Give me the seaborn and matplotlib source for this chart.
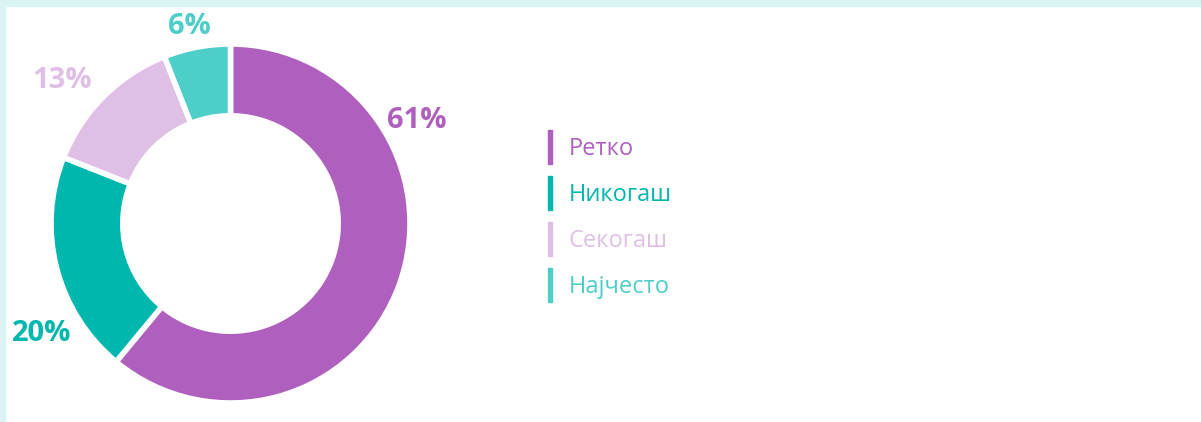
import matplotlib.pyplot as plt
from matplotlib.patches import Rectangle
import seaborn as sns

sns.set_theme(style='white')
plt.rcParams['font.family'] = ['Open Sans', 'DejaVu Sans']

labels = ['Ретко', 'Никогаш', 'Секогаш', 'Најчесто']
values = [61, 20, 13, 6]
colors = ['#AF5FBD', '#00B7AE', '#E0BFE6', '#4ECEC8']
# label anchor points around the ring (pie units, radius = 1)
label_pos = [(1.04, 0.575), (-1.05, -0.615), (-0.94, 0.795), (-0.23, 1.095)]

W, H = 1201, 422
fig = plt.figure(figsize=(W / 100, H / 100), dpi=100)
fig.patch.set_facecolor('white')

# light frame on top and left
fig.patches.append(Rectangle((0, 1 - 6 / H), 1, 6 / H, transform=fig.transFigure,
                             color='#DAF3F3', zorder=0))
fig.patches.append(Rectangle((0, 0), 5 / W, 1, transform=fig.transFigure,
                             color='#DAF3F3', zorder=0))

cx, cy, R = 230.5, 223.5, 179.5
ax = fig.add_axes([(cx - R) / W, (H - cy - R) / H, 2 * R / W, 2 * R / H])
ax.pie(values, colors=colors, startangle=90, counterclock=False, radius=1,
       wedgeprops=dict(width=0.4, edgecolor='white', linewidth=4))
ax.set_xlim(-1, 1)
ax.set_ylim(-1, 1)
ax.axis('off')

for v, c, (x, y) in zip(values, colors, label_pos):
    ax.text(x, y, f'{v}%', color=c, fontsize=21, fontweight='bold',
            ha='center', va='center', clip_on=False)

# legend with vertical bar markers
for i, (lab, c) in enumerate(zip(labels, colors)):
    yc = 147 + i * 46
    fig.patches.append(Rectangle((548 / W, (H - yc - 17) / H), 4 / W, 34 / H,
                                 transform=fig.transFigure, color=c))
    fig.text(569 / W, (H - yc - 2) / H, lab, color=c, fontsize=17,
             ha='left', va='center')

fig.savefig('out.png', dpi=100)
